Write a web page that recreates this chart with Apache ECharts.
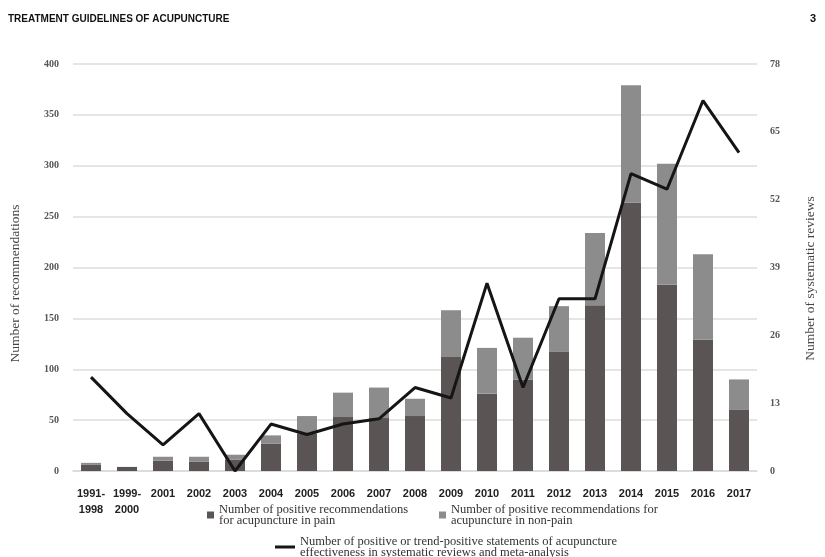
<!DOCTYPE html>
<html>
<head>
<meta charset="utf-8">
<script src="https://cdn.jsdelivr.net/npm/echarts@6/dist/echarts.min.js"></script>
<style>
  body { margin: 0; background: #fff; }
  #grafico { width: 825px; height: 557px; }
</style>
</head>
<body>
<div id="grafico"></div>
<script>
const anos = ["1991-\n1998", "1999-\n2000", "2001", "2002", "2003", "2004", "2005", "2006", "2007", "2008",
  "2009", "2010", "2011", "2012", "2013", "2014", "2015", "2016", "2017"];
// recomendacoes positivas (dor / nao-dor)
const dor = [6, 4, 10, 9, 11, 27, 37, 53, 52, 54, 112, 76, 90, 117, 163, 264, 183, 129, 60];
const naoDor = [2, 0, 4, 5, 5, 8, 17, 24, 30, 17, 46, 45, 41, 45, 71, 115, 119, 84, 30];
// revisoes sistematicas
const revisoes = [18, 11, 5, 11, 0, 9, 7, 9, 10, 16, 14, 36, 16, 33, 33, 57, 54, 71, 61];

const serifa = "'Liberation Serif', 'DejaVu Serif', serif";
const semSerifa = "'Liberation Sans', Arial, sans-serif";

const nomeDor = "Number of positive recommendations\nfor acupuncture in pain";
const nomeNaoDor = "Number of positive recommendations for\nacupuncture in non-pain";
const nomeRev = "Number of positive or trend-positive statements of acupuncture\neffectiveness in systematic reviews and meta-analysis";

const legendaTexto = { fontFamily: serifa, fontSize: 12.5, lineHeight: 11, color: "#333" };

let chart = echarts.init(document.getElementById("grafico"));

chart.setOption({
  animation: false,
  title: [
    {
      text: "TREATMENT GUIDELINES OF ACUPUNCTURE",
      left: 8, top: 14, padding: 0,
      textStyle: { fontFamily: semSerifa, fontWeight: "bold", fontSize: 10, color: "#111" }
    },
    {
      text: "3",
      left: 810, top: 13, padding: 0,
      textStyle: { fontFamily: semSerifa, fontWeight: "bold", fontSize: 11, color: "#111" }
    }
  ],
  legend: [
    {
      data: [nomeDor], left: 202, top: 498,
      itemWidth: 7, itemHeight: 7, icon: "rect",
      textStyle: legendaTexto
    },
    {
      data: [nomeNaoDor], left: 434, top: 498,
      itemWidth: 7, itemHeight: 7, icon: "rect",
      textStyle: legendaTexto
    },
    {
      data: [{ name: nomeRev, icon: "rect" }], left: 270, top: 530,
      itemWidth: 20, itemHeight: 3,
      textStyle: legendaTexto
    }
  ],
  grid: { left: 72, right: 60, top: 64, bottom: 86 },
  xAxis: {
    type: "category",
    data: anos,
    axisTick: { show: false },
    axisLine: { lineStyle: { color: "#d9d9d9", width: 1.5 } },
    axisLabel: {
      interval: 0, margin: 15,
      fontFamily: semSerifa, fontWeight: "bold", fontSize: 11, lineHeight: 16, color: "#222"
    }
  },
  yAxis: [
    {
      type: "value", min: 0, max: 400, interval: 50,
      name: "Number of recommendations",
      nameLocation: "middle", nameGap: 51,
      nameTextStyle: { fontFamily: serifa, fontSize: 13.5, color: "#444", padding: [0, 32, 0, 0] },
      axisLabel: { margin: 14, fontFamily: serifa, fontWeight: "bold", fontSize: 10, color: "#555" },
      splitLine: { lineStyle: { color: "#dcdcdc", width: 1.5 } }
    },
    {
      type: "value", min: 0, max: 78, interval: 13,
      name: "Number of systematic reviews",
      nameLocation: "middle", nameGap: 46,
      nameTextStyle: { fontFamily: serifa, fontSize: 13.5, color: "#444", padding: [0, 22, 0, 0] },
      axisLabel: { margin: 13, fontFamily: serifa, fontWeight: "bold", fontSize: 10, color: "#555" },
      splitLine: { show: false }
    }
  ],
  series: [
    {
      name: nomeDor, type: "bar", stack: "rec", barWidth: 20,
      data: dor, itemStyle: { color: "#5a5455" }
    },
    {
      name: nomeNaoDor, type: "bar", stack: "rec", barWidth: 20,
      data: naoDor, itemStyle: { color: "#8c8c8c" }
    },
    {
      name: nomeRev, type: "line", yAxisIndex: 1,
      data: revisoes, showSymbol: false, symbol: "none",
      lineStyle: { color: "#151515", width: 3 },
      itemStyle: { color: "#151515" }
    }
  ]
});
</script>
</body>
</html>
